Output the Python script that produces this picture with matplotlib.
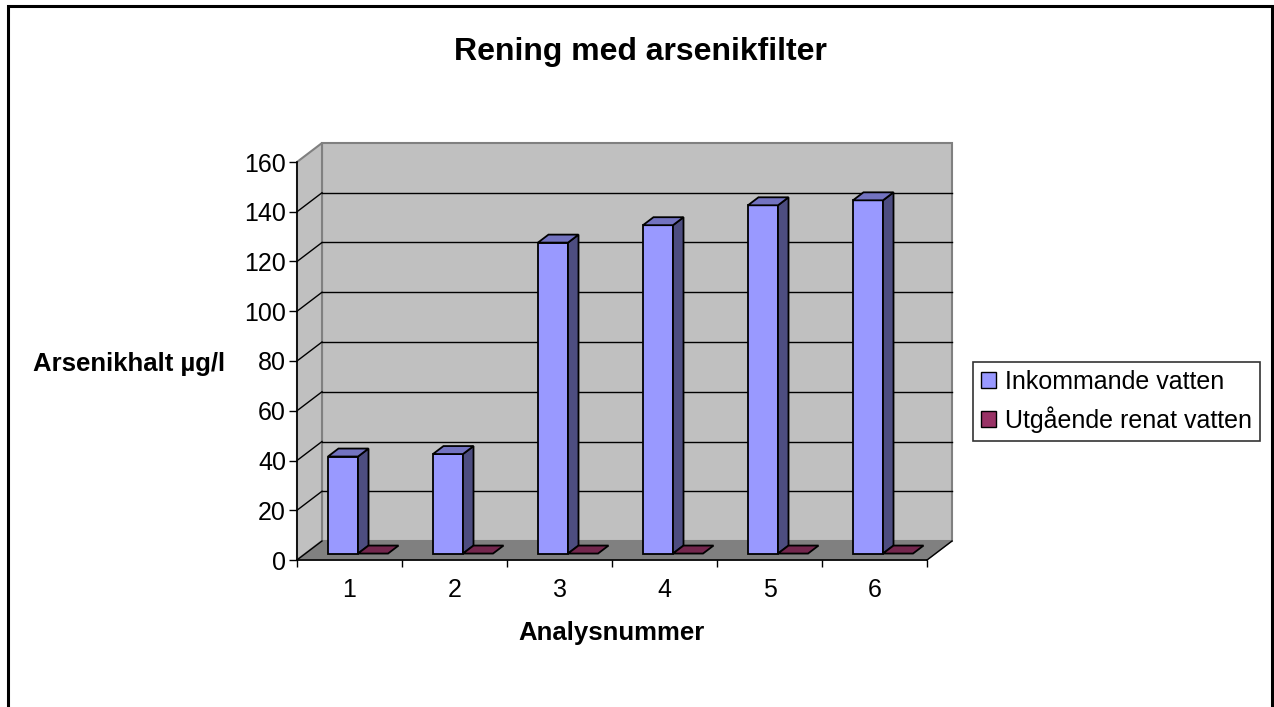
import numpy as np
import matplotlib
matplotlib.use("Agg")
import matplotlib.pyplot as plt
from matplotlib.patches import Polygon, Patch, Rectangle

plt.rcParams['font.family'] = ['Liberation Sans', 'DejaVu Sans']

# data
analyser = [1, 2, 3, 4, 5, 6]
inkommande = [39, 40, 125, 132, 140, 142]
utgaende = [0, 0, 0, 0, 0, 0]
yticks = [0, 20, 40, 60, 80, 100, 120, 140, 160]

W, H = 1274, 707
fig = plt.figure(figsize=(W / 100, H / 100), dpi=100)

# front plane of the 3d box in pixel terms
x0, x1 = 297, 927
ytop, ybot = 162, 560
ax = fig.add_axes([x0 / W, 1 - ybot / H, (x1 - x0) / W, (ybot - ytop) / H])
ax.set_xlim(0.5, 6.5)
ax.set_ylim(0, 160)
ax.patch.set_visible(False)

# depth of the box, pixels -> data units
px_x = 6 / (x1 - x0)
px_y = 160 / (ybot - ytop)
DX, DY = 25 * px_x, 19 * px_y

# walls and floor
xa, xb = 0.5, 6.5
floor = Polygon([(xa, 0), (xb, 0), (xb + DX, DY), (xa + DX, DY)],
                closed=True, fc='#808080', ec='#808080', lw=1, zorder=0, clip_on=False)
back = Polygon([(xa + DX, DY), (xb + DX, DY), (xb + DX, 160 + DY), (xa + DX, 160 + DY)],
               closed=True, fc='#c0c0c0', ec='#808080', lw=1.5, zorder=0, clip_on=False)
side = Polygon([(xa, 0), (xa + DX, DY), (xa + DX, 160 + DY), (xa, 160)],
               closed=True, fc='#c0c0c0', ec='#808080', lw=1.5, zorder=0, clip_on=False)
for p in (back, side, floor):
    ax.add_patch(p)
ax.plot([xb, xb + DX], [0, DY], color='black', lw=1, zorder=1, clip_on=False)

# gridlines on back wall and side wall
for v in yticks[1:-1]:
    ax.plot([xa + DX, xb + DX], [v + DY, v + DY], color='black', lw=1, zorder=0.5, clip_on=False)
for v in yticks[:-1]:
    ax.plot([xa, xa + DX], [v, v + DY], color='black', lw=1, zorder=0.5, clip_on=False)

# bars
w = 0.286
f0 = 0.34   # depth position of front face
fd = 0.42   # bar depth
ox, oy = f0 * DX, f0 * DY
bx, by = fd * DX, fd * DY
xs = np.array(analyser)
colors = [('#9999ff', '#7373c0', '#4d4d80'), ('#993366', '#73264d', '#4d1933')]

for i, x in enumerate(xs):
    for s, (vals, (cf, ct, cs)) in enumerate([(inkommande, colors[0]), (utgaende, colors[1])]):
        v = vals[i]
        left = x - w + s * w + ox
        z = 3 + i * 2 + s
        if v > 0:
            ax.bar(left, v, width=w, bottom=oy, align='edge', color=cf,
                   edgecolor='black', lw=1.3, zorder=z, clip_on=False)
            ax.add_patch(Polygon([(left + w, oy), (left + w + bx, oy + by),
                                  (left + w + bx, oy + v + by), (left + w, oy + v)],
                                 closed=True, fc=cs, ec='black', lw=1.3, zorder=z, clip_on=False))
        ax.add_patch(Polygon([(left, oy + v), (left + w, oy + v),
                              (left + w + bx, oy + v + by), (left + bx, oy + v + by)],
                             closed=True, fc=ct, ec='black', lw=1.3, zorder=z, clip_on=False))

# axes
for sp in ('top', 'right'):
    ax.spines[sp].set_visible(False)
ax.spines['left'].set_linewidth(1.2)
ax.spines['bottom'].set_linewidth(1.2)
ax.spines['left'].set_zorder(20)
ax.spines['bottom'].set_zorder(20)
ax.set_yticks(yticks)
ax.tick_params(axis='y', length=6, width=1, pad=2, labelsize=18)
ax.set_xticks(np.arange(0.5, 7, 1))
ax.set_xticklabels([])
ax.set_xticks(xs, minor=True)
ax.set_xticklabels([str(a) for a in analyser], minor=True)
ax.tick_params(axis='x', which='major', length=5, width=1)
ax.tick_params(axis='x', which='minor', length=0, pad=13, labelsize=18)

# texts
fig.text(640 / W, 1 - 52 / H, 'Rening med arsenikfilter', ha='center', va='center',
         fontsize=23, fontweight='bold')
fig.text(129 / W, 1 - 364 / H, 'Arsenikhalt µg/l', ha='center', va='center',
         fontsize=18.5, fontweight='bold')
fig.text(611 / W, 1 - 633 / H, 'Analysnummer', ha='center', va='center',
         fontsize=18.5, fontweight='bold')

# legend
handles = [Patch(fc='#9999ff', ec='black', lw=1), Patch(fc='#993366', ec='black', lw=1)]
leg = fig.legend(handles, ['Inkommande vatten', 'Utgående renat vatten'],
                 loc='upper left', bbox_to_anchor=(973 / W, 1 - 362 / H),
                 fontsize=18, frameon=True, fancybox=False, edgecolor='black',
                 handlelength=0.6, handleheight=0.6, handletextpad=0.35,
                 borderpad=0.32, labelspacing=0.5, borderaxespad=0)
leg.get_frame().set_linewidth(1.2)

# outer border
fig.patches.append(Rectangle((8 / W, -0.05), (1272 - 8) / W, 1.05 - 6 / H,
                             transform=fig.transFigure, fill=False, ec='black', lw=2.2))

fig.savefig('out.png', dpi=100)
